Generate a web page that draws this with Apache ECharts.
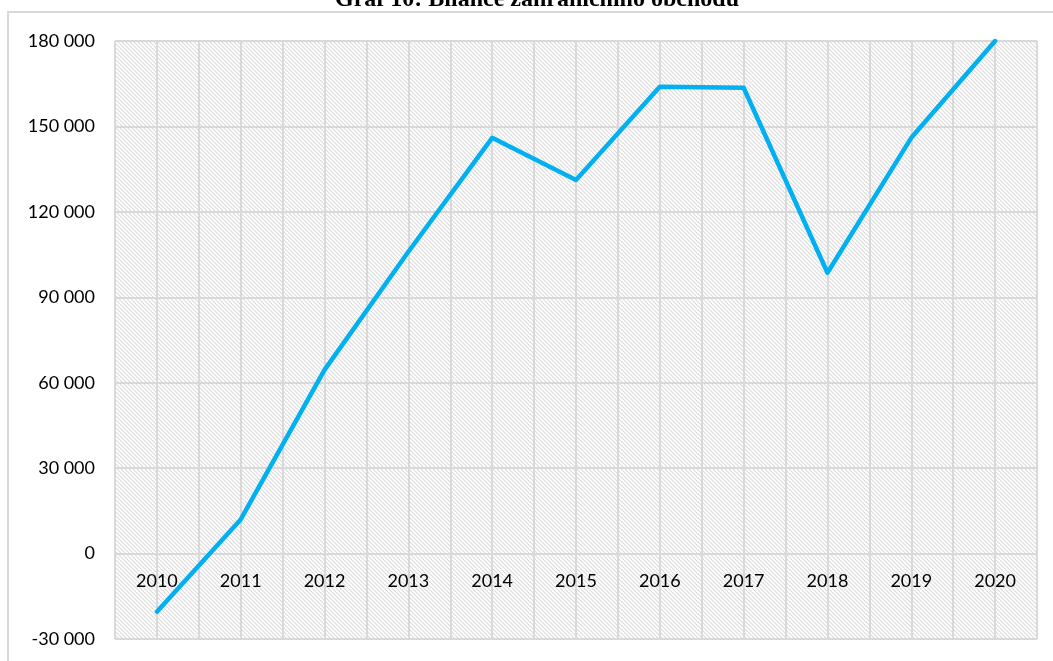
<!DOCTYPE html>
<html>
<head>
<meta charset="utf-8">
<script src="https://cdn.jsdelivr.net/npm/echarts@6/dist/echarts.min.js"></script>
<style>
html,body{margin:0;padding:0;background:#fff;}
#chart{width:1053px;height:661px;}
</style>
</head>
<body>
<div id="chart"></div>
<script>
const titleText = 'Graf 10: Bilance zahraničního obchodu';
const years = ['2010','2011','2012','2013','2014','2015','2016','2017','2018','2019','2020'];
const balance = [-20400, 12000, 64500, 106000, 146000, 131200, 163900, 163600, 98600, 146000, 180000];
const yMin = -30000, yMax = 180000, yStep = 30000;

function hatch(){
  const c = document.createElement('canvas');
  c.width = 8; c.height = 8;
  const g = c.getContext('2d');
  g.fillStyle = '#ffffff'; g.fillRect(0,0,8,8);
  g.strokeStyle = '#dcdcdc'; g.lineWidth = 1.1;
  for (let k = -8; k <= 16; k += 4) {
    g.beginPath(); g.moveTo(k, 0); g.lineTo(k + 8, 8); g.stroke();
  }
  return c;
}

const gridTop = 41, gridBottom = 22, H = 661;
const plotH = H - gridTop - gridBottom;
const zeroOffset = -plotH * (0 - yMin) / (yMax - yMin);

const chart = echarts.init(document.getElementById('chart'), null, {renderer:'canvas'});
const fmt = v => {
  const s = Math.abs(v).toString().replace(/\B(?=(\d{3})+(?!\d))/g, ' ');
  return (v < 0 ? '-' : '') + s;
};
const gridColor = '#d9d9d9';
chart.setOption({
  animation:false,
  backgroundColor:'#ffffff',
  graphic:[
    {type:'rect', shape:{x:8, y:12, width:1080, height:700}, style:{fill:'none', stroke:gridColor, lineWidth:2}, z:-10},
    {type:'text', x:537, y:-12, style:{text:titleText, font:'bold 24px "Liberation Serif"', fill:'#000', textAlign:'center', textVerticalAlign:'top'}}
  ],
  grid:{left:115, right:16, top:gridTop, bottom:gridBottom, show:true, borderWidth:0, outerBoundsMode:'none', containLabel:false,
        backgroundColor:{image:hatch(), repeat:'repeat'}},
  xAxis:[
    {type:'category', data:years, boundaryGap:true, position:'bottom', offset:zeroOffset,
     axisLine:{show:true, onZero:false, lineStyle:{color:gridColor, width:2}},
     axisTick:{show:false}, splitLine:{show:false},
     axisLabel:{margin:19, fontSize:18, color:'#000', fontFamily:'Lato'}},
    {type:'value', min:0, max:years.length*2, interval:1, show:true, position:'top',
     axisLine:{show:false, onZero:false}, axisTick:{show:false}, axisLabel:{show:false},
     splitLine:{show:true, lineStyle:{color:gridColor, width:2}}}
  ],
  yAxis:{type:'value', min:yMin, max:yMax, interval:yStep,
    axisLine:{show:false, onZero:false}, axisTick:{show:false},
    splitLine:{show:true, lineStyle:{color:gridColor, width:2}},
    axisLabel:{formatter:fmt, fontSize:18, color:'#000', margin:20, fontFamily:'Lato'}},
  series:[{type:'line', data:balance, xAxisIndex:0, showSymbol:false, symbol:'none',
    lineStyle:{color:'#00b0f0', width:4.5, join:'round', cap:'round'}, z:5}]
});
</script>
</body>
</html>
